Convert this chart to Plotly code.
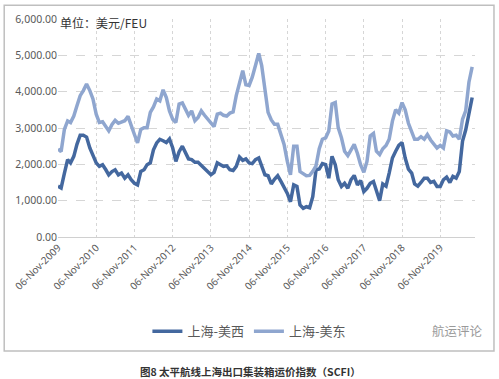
import pandas as pd
import plotly.graph_objects as go

# monthly sample dates (6th of each month), Nov 2009 .. Sep 2020
dates = pd.date_range("2009-11-06", periods=131, freq=pd.DateOffset(months=1))

uswc = [1400, 1350, 1750, 2130, 2040, 2220, 2550, 2800, 2800, 2750,
        2450, 2270, 2040, 1945, 1990, 1850, 1710, 1800, 1850, 1710,
        1760, 1620, 1710, 1575, 1480, 1435, 1805, 1850, 1990, 2040,
        2400, 2590, 2690, 2650, 2600, 2700, 2450, 2080, 2350, 2500,
        2315, 2150, 2130, 2055, 2055, 1970, 1880, 1805, 1713, 1780,
        2040, 1990, 1945, 1960, 1850, 1830, 1945, 2200, 2110, 2150,
        2040, 2020, 2130, 2175, 1925, 1713, 1685, 1460, 1590, 1685,
        1530, 1370, 1200, 970, 1435, 1390, 880, 790, 833, 805,
        1110, 1850, 1870, 2020, 1990, 1620, 2222, 1990, 1575, 1390,
        1480, 1342, 1575, 1695, 1435, 1555, 1250, 1340, 1480, 1528,
        1250, 1000, 1460, 1400, 1760, 2175, 2360, 2520, 2600, 2175,
        1870, 1760, 1460, 1400, 1500, 1620, 1620, 1500, 1530, 1390,
        1390, 1575, 1650, 1500, 1667, 1620, 1805, 2640, 2945, 3380,
        3840]

usec = [2420, 2350, 2960, 3195, 3150, 3330, 3610, 3890, 4030, 4210,
        4030, 3800, 3380, 3150, 3170, 3040, 2920, 3100, 3210, 3130,
        3170, 3200, 3320, 3040, 2820, 2590, 2960, 3010, 3010, 3430,
        3580, 3800, 3750, 4050, 3840, 3470, 3240, 3150, 3660, 3690,
        3540, 3350, 3470, 3200, 3290, 3470, 3350, 3240, 3130, 3040,
        3380, 3410, 3350, 3330, 3410, 3440, 3890, 4290, 4580, 4190,
        4170, 4400, 4700, 5050, 4720, 4120, 3430, 3220, 3100, 3100,
        2820, 2550, 2080, 1710, 2500, 2500, 1800, 1740, 1685, 1695,
        1805, 1960, 2430, 2690, 2730, 2920, 3660, 3700, 3010, 2730,
        2360, 2240, 2410, 2550, 2300, 1990, 1780, 2080, 2780, 2850,
        2360, 2270, 2430, 2520, 2690, 3190, 3500, 3410, 3700, 3500,
        3130, 2920, 2690, 2690, 2760, 2690, 2820, 2670, 2550, 2450,
        2520, 2450, 2920, 2890, 2780, 2800, 2690, 3240, 3470, 4260,
        4680]

tick_dates = [f"{y}-11-06" for y in range(2009, 2020)]
y_ticks = [0, 1000, 2000, 3000, 4000, 5000, 6000]

series_names = ["上海-美西", "上海-美东"]
colors = ["#44689f", "#8fa6cf"]

fig = go.Figure()
fig.add_trace(go.Scatter(x=dates, y=uswc, mode="lines", name=series_names[0],
                         line=dict(color=colors[0], width=3.5)))
fig.add_trace(go.Scatter(x=dates, y=usec, mode="lines", name=series_names[1],
                         line=dict(color=colors[1], width=3.5)))

font_cn = "Noto Sans CJK SC, Noto Sans, sans-serif"
grid = "#d6d6d6"

fig.update_layout(
    width=499, height=379,
    margin=dict(l=57, r=24, t=17, b=142),
    paper_bgcolor="white", plot_bgcolor="white",
    font=dict(family=font_cn, color="#595959", size=10),
    showlegend=True,
    legend=dict(orientation="h", x=0.459, y=-0.432, xanchor="center", yanchor="middle",
                font=dict(size=13, color="#595959"), itemwidth=30,
                bgcolor="rgba(0,0,0,0)"),
    xaxis=dict(type="date", range=["2009-11-06", "2020-10-03"],
               tickvals=tick_dates, tickformat="%d-%b-%Y", tickangle=-45,
               showgrid=True, gridcolor=grid, griddash="dot", gridwidth=1,
               showline=True, linecolor="#d0d0d0", linewidth=1,
               ticks="", tickfont=dict(size=10, family="Noto Sans", color="#595959"),
               zeroline=False),
    yaxis=dict(range=[0, 6000], tickvals=y_ticks, tickformat=",.2f",
               showgrid=True, gridcolor=grid, griddash="dash", gridwidth=1,
               zeroline=False, showline=False, ticks="",
               tickfont=dict(size=10.5, family="Noto Sans", color="#595959")),
)

fig.add_shape(type="rect", xref="paper", yref="paper",
              x0=-0.129, x1=1.0455, y0=-0.5227, y1=1.0636,
              line=dict(color="#bfbfbf", width=1.5), fillcolor="rgba(0,0,0,0)")

fig.add_annotation(text="单位：美元/FEU", xref="paper", yref="paper",
                   x=0.0, y=0.986, xanchor="left", yanchor="middle", showarrow=False,
                   font=dict(size=12, color="#333333", family=font_cn))
fig.add_annotation(text="航运评论", xref="paper", yref="paper",
                   x=1.025, y=-0.43, xanchor="right", yanchor="middle", showarrow=False,
                   font=dict(size=12.5, color="#9a9a9a", family=font_cn))
fig.add_annotation(text="<b>图8 太平航线上海出口集装箱运价指数（SCFI）</b>",
                   xref="paper", yref="paper", x=0.4617, y=-0.618,
                   xanchor="center", yanchor="middle", showarrow=False,
                   font=dict(size=10.5, color="#333333", family=font_cn))

fig.write_html("out.html", config={"displayModeBar": False},
               post_script="document.body.style.margin='0';document.body.style.padding='0';")
